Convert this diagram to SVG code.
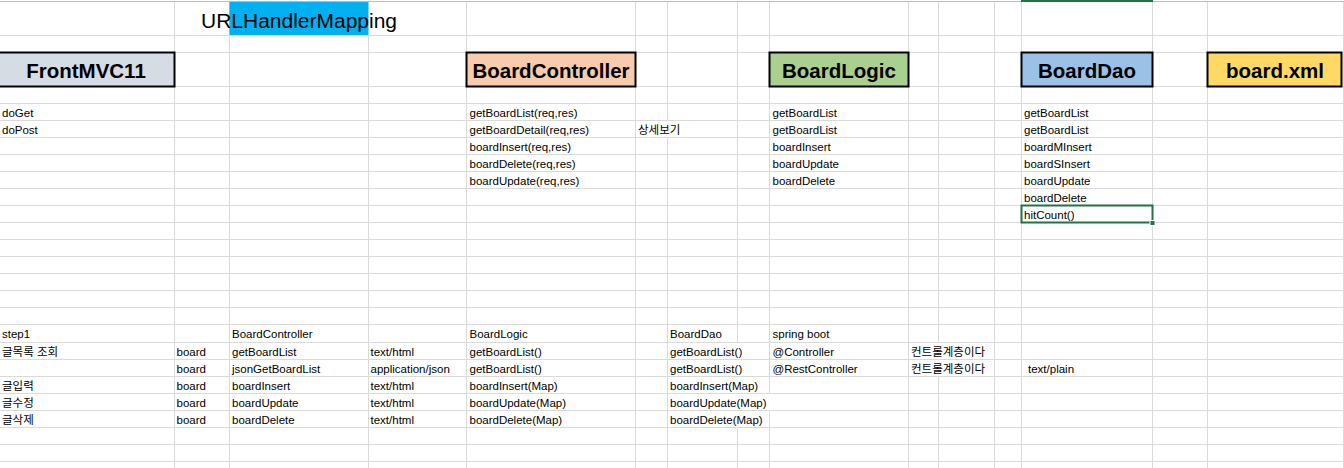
<svg xmlns="http://www.w3.org/2000/svg" width="1344" height="468" viewBox="0 0 1344 468">
<style>
.t{font-family:'Liberation Sans','Noto Sans CJK KR',sans-serif;font-size:11.5px;fill:#000}
.h{font-family:'Liberation Sans','Noto Sans CJK KR',sans-serif;font-size:20.5px;font-weight:bold;text-anchor:middle;fill:#000}
.grid{stroke:#dadada;stroke-width:1;fill:none}
.box{stroke:#000;stroke-width:2}
.w{fill:#fff}
</style>
<rect width="1344" height="468" fill="#fff"/>
<g id="grid">
<path class="grid" d="M0 35.5H1344M0 52.5H1344M0 86.5H1344M0 103.5H1344M0 120.5H1344M0 137.5H1344M0 154.5H1344M0 171.5H1344M0 188.5H1344M0 205.5H1344M0 222.5H1344M0 239.5H1344M0 256.5H1344M0 273.5H1344M0 290.5H1344M0 307.5H1344M0 324.5H1344M0 342.5H1344M0 359.5H1344M0 376.5H1344M0 393.5H1344M0 410.5H1344M0 427.5H1344M0 444.5H1344M0 461.5H1344"/>
<path class="grid" d="M174.5 2V468M229.5 2V468M368.5 2V468M466.5 2V468M635.5 2V468M667.5 2V468M737.5 2V468M769.5 2V468M908.5 2V468M938.5 2V468M994.5 2V468M1021.5 2V468M1152.5 2V468M1207.5 2V468M1343.5 2V468"/>
<line x1="0" y1="1.5" x2="1344" y2="1.5" stroke="#bdbdbd" stroke-width="1"/>
<line x1="1021" y1="1" x2="1153" y2="1" stroke="#217346" stroke-width="2"/>
</g>
<g id="overflow-masks">
<rect class="w" x="367.5" y="2" width="2" height="33"/>
<rect class="w" x="666.5" y="121" width="2" height="16"/>
<rect class="w" x="736.5" y="343" width="2" height="16"/>
<rect class="w" x="736.5" y="360" width="2" height="16"/>
<rect class="w" x="736.5" y="377" width="2" height="16"/>
<rect class="w" x="736.5" y="394" width="2" height="16"/>
<rect class="w" x="736.5" y="411" width="2" height="16"/>
<rect class="w" x="768.5" y="394" width="2" height="16"/>
<rect class="w" x="937.5" y="343" width="2" height="16"/>
<rect class="w" x="937.5" y="360" width="2" height="16"/>
</g>
<g id="url-mapping">
<rect x="229.5" y="2" width="139" height="33" fill="#00b0f0"/>
<text x="201" y="27.5" style="font-family:'Liberation Sans',sans-serif;font-size:20px;fill:#000" textLength="196" lengthAdjust="spacingAndGlyphs">URLHandlerMapping</text>
</g>
<g id="FrontMVC11">
<rect class="box" x="-2" y="52.5" width="176.5" height="34" fill="#d6dce4"/>
<text class="h" x="86" y="77.5">FrontMVC11</text>
</g>
<g id="BoardController">
<rect class="box" x="466.5" y="52.5" width="169" height="34" fill="#f8cbad"/>
<text class="h" x="551" y="77.5">BoardController</text>
</g>
<g id="BoardLogic">
<rect class="box" x="769.5" y="52.5" width="139" height="34" fill="#a9d08e"/>
<text class="h" x="839" y="77.5">BoardLogic</text>
</g>
<g id="BoardDao">
<rect class="box" x="1021.5" y="52.5" width="131" height="34" fill="#9bc2e6"/>
<text class="h" x="1087" y="77.5">BoardDao</text>
</g>
<g id="board-xml">
<rect class="box" x="1207.5" y="52.5" width="134" height="34" fill="#ffd966"/>
<text class="h" x="1275" y="77.5">board.xml</text>
</g>
<g id="front-methods">
<text class="t" x="2" y="117">doGet</text>
<text class="t" x="2" y="134">doPost</text>
</g>
<g id="controller-methods">
<text class="t" x="469.5" y="117">getBoardList(req,res)</text>
<text class="t" x="469.5" y="134">getBoardDetail(req,res)</text>
<text class="t" x="469.5" y="151">boardInsert(req,res)</text>
<text class="t" x="469.5" y="168">boardDelete(req,res)</text>
<text class="t" x="469.5" y="185">boardUpdate(req,res)</text>
<text class="t" x="638" y="134">상세보기</text>
</g>
<g id="logic-methods">
<text class="t" x="772.5" y="117">getBoardList</text>
<text class="t" x="772.5" y="134">getBoardList</text>
<text class="t" x="772.5" y="151">boardInsert</text>
<text class="t" x="772.5" y="168">boardUpdate</text>
<text class="t" x="772.5" y="185">boardDelete</text>
</g>
<g id="dao-methods">
<text class="t" x="1024" y="117">getBoardList</text>
<text class="t" x="1024" y="134">getBoardList</text>
<text class="t" x="1024" y="151">boardMInsert</text>
<text class="t" x="1024" y="168">boardSInsert</text>
<text class="t" x="1024" y="185">boardUpdate</text>
<text class="t" x="1024" y="202">boardDelete</text>
<text class="t" x="1024" y="219">hitCount()</text>
<rect x="1021.5" y="205.5" width="131" height="17" fill="none" stroke="#217346" stroke-width="2"/>
<rect x="1150" y="220.5" width="5" height="5" fill="#217346" stroke="#fff" stroke-width="1"/>
</g>
<g id="step-table">
<text class="t" x="2" y="338">step1</text>
<text class="t" x="2" y="356">글목록 조회</text>
<text class="t" x="2" y="390">글입력</text>
<text class="t" x="2" y="407">글수정</text>
<text class="t" x="2" y="424">글삭제</text>
<text class="t" x="176.5" y="356">board</text>
<text class="t" x="176.5" y="373">board</text>
<text class="t" x="176.5" y="390">board</text>
<text class="t" x="176.5" y="407">board</text>
<text class="t" x="176.5" y="424">board</text>
<text class="t" x="232" y="338">BoardController</text>
<text class="t" x="232" y="356">getBoardList</text>
<text class="t" x="232" y="373">jsonGetBoardList</text>
<text class="t" x="232" y="390">boardInsert</text>
<text class="t" x="232" y="407">boardUpdate</text>
<text class="t" x="232" y="424">boardDelete</text>
<text class="t" x="370.5" y="356">text/html</text>
<text class="t" x="370.5" y="373">application/json</text>
<text class="t" x="370.5" y="390">text/html</text>
<text class="t" x="370.5" y="407">text/html</text>
<text class="t" x="370.5" y="424">text/html</text>
<text class="t" x="469.5" y="338">BoardLogic</text>
<text class="t" x="469.5" y="356">getBoardList()</text>
<text class="t" x="469.5" y="373">getBoardList()</text>
<text class="t" x="469.5" y="390">boardInsert(Map)</text>
<text class="t" x="469.5" y="407">boardUpdate(Map)</text>
<text class="t" x="469.5" y="424">boardDelete(Map)</text>
<text class="t" x="670" y="338">BoardDao</text>
<text class="t" x="670" y="356">getBoardList()</text>
<text class="t" x="670" y="373">getBoardList()</text>
<text class="t" x="670" y="390">boardInsert(Map)</text>
<text class="t" x="670" y="407">boardUpdate(Map)</text>
<text class="t" x="670" y="424">boardDelete(Map)</text>
<text class="t" x="772.5" y="338">spring boot</text>
<text class="t" x="772.5" y="356">@Controller</text>
<text class="t" x="772.5" y="373">@RestController</text>
<text class="t" x="911" y="356">컨트롤계층이다</text>
<text class="t" x="911" y="373">컨트롤계층이다</text>
<text class="t" x="1028" y="373">text/plain</text>
</g>
</svg>
